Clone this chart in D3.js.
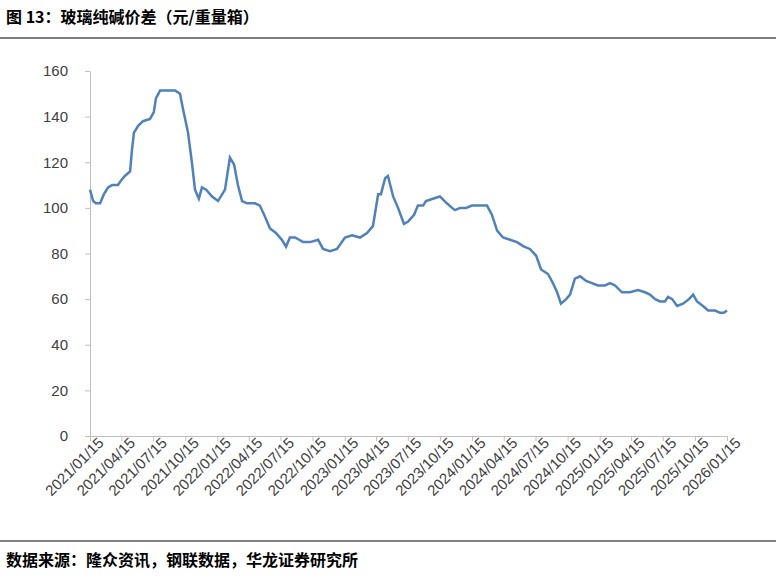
<!DOCTYPE html>
<html><head><meta charset="utf-8">
<script src="https://cdn.jsdelivr.net/npm/d3@7"></script>
<style>body{margin:0;background:#fff}</style>
</head><body>
<svg width="776" height="580"></svg>
<script>
// Données
const dates = ["2021-01-15","2021-01-24","2021-02-01","2021-02-13","2021-02-24","2021-03-08","2021-03-19","2021-04-05","2021-04-14","2021-04-25","2021-05-10","2021-05-15","2021-05-21","2021-06-02","2021-06-16","2021-07-06","2021-07-17","2021-07-23","2021-08-04","2021-09-16","2021-09-30","2021-10-09","2021-10-23","2021-11-03","2021-11-12","2021-11-23","2021-12-02","2021-12-14","2021-12-31","2022-01-17","2022-02-06","2022-02-20","2022-03-04","2022-03-15","2022-03-27","2022-04-10","2022-05-03","2022-05-17","2022-06-01","2022-06-15","2022-07-02","2022-07-19","2022-07-31","2022-08-11","2022-08-26","2022-09-18","2022-10-08","2022-10-31","2022-11-14","2022-12-04","2022-12-24","2023-01-16","2023-02-05","2023-02-28","2023-03-20","2023-04-06","2023-04-21","2023-04-29","2023-05-11","2023-05-19","2023-06-03","2023-06-17","2023-07-04","2023-07-16","2023-08-02","2023-08-13","2023-08-28","2023-09-05","2023-09-25","2023-10-15","2023-11-04","2023-11-19","2023-11-27","2023-12-12","2023-12-29","2024-01-15","2024-02-07","2024-02-27","2024-03-12","2024-03-27","2024-04-13","2024-05-03","2024-05-23","2024-06-12","2024-06-29","2024-07-17","2024-07-31","2024-08-20","2024-09-03","2024-09-15","2024-09-26","2024-10-11","2024-10-22","2024-11-05","2024-11-20","2024-12-07","2024-12-24","2025-01-10","2025-01-30","2025-02-14","2025-02-28","2025-03-20","2025-04-12","2025-05-05","2025-05-25","2025-06-08","2025-06-23","2025-07-07","2025-07-21","2025-07-30","2025-08-11","2025-08-25","2025-09-11","2025-09-28","2025-10-10","2025-10-21","2025-11-07","2025-11-22","2025-12-12","2025-12-26","2026-01-06","2026-01-15"];
const values = [108,103,102,102,106,109,110,110,112,114,116,125,133,136,138,139,142,148,151.5,151.5,150,143,133,120,108,104,109,108,105,103,108,122,119,110,103,102,102,101,96,91,89,86,83,87,87,85,85,86,82,81,82,87,88,87,89,92,106,106,113,114,105,100,93,94,97,101,101,103,104,105,102,100,99,100,100,101,101,101,97,90,87,86,85,83,82,79,73,71,67,63,58,60,62,69,70,68,67,66,66,67,66,63,63,64,63,62,60,59,59,61,60,57,58,60,62,59,57,55,55,54,54,55];
const tickLabels = ["2021/01/15","2021/04/15","2021/07/15","2021/10/15","2022/01/15","2022/04/15","2022/07/15","2022/10/15","2023/01/15","2023/04/15","2023/07/15","2023/10/15","2024/01/15","2024/04/15","2024/07/15","2024/10/15","2025/01/15","2025/04/15","2025/07/15","2025/10/15","2026/01/15"];
const yTicks = [0,20,40,60,80,100,120,140,160];

const svg = d3.select("svg");
const parse = d3.timeParse("%Y-%m-%d");
const parseTick = d3.timeParse("%Y/%m/%d");
const data = dates.map((d, i) => ({date: parse(d), value: values[i]}));

const x = d3.scaleTime().domain([parse("2021-01-15"), parse("2026-01-15")]).range([90, 727]);
const y = d3.scaleLinear().domain([0, 160]).range([436, 71]);

// Titre
svg.append("text").attr("x", 6).attr("y", 23)
    .style("font-family", "Noto Sans CJK SC").style("font-weight", "bold").style("font-size", "16px")
    .text("图 13：玻璃纯碱价差（元/重量箱）");
svg.append("line").attr("x1", 0).attr("x2", 776).attr("y1", 38).attr("y2", 38).attr("stroke", "#000").attr("stroke-width", 1);

// Axes
const yAxis = svg.append("g").attr("transform", "translate(90,0)")
    .call(d3.axisLeft(y).tickValues(yTicks).tickSize(5).tickSizeOuter(0));
yAxis.selectAll("text").style("font-family", "Arial").style("font-size", "15px").attr("fill", "#404040").attr("x", -22);
yAxis.select(".domain").attr("stroke", "#bfbfbf");
yAxis.selectAll(".tick line").attr("stroke", "#bfbfbf");

const xAxis = svg.append("g").attr("transform", "translate(0,436)")
    .call(d3.axisBottom(x).tickValues(tickLabels.map(parseTick)).tickFormat(d3.timeFormat("%Y/%m/%d")).tickSize(5).tickSizeOuter(0));
xAxis.select(".domain").attr("stroke", "#bfbfbf");
xAxis.selectAll(".tick line").attr("stroke", "#bfbfbf");
xAxis.selectAll("text")
    .style("font-family", "Arial").style("font-size", "15px").attr("fill", "#404040")
    .attr("text-anchor", "end").attr("dx", "0.3em").attr("dy", "0.5em")
    .attr("transform", "rotate(-45)");

// Courbe
svg.append("path").datum(data)
    .attr("fill", "none").attr("stroke", "#4f81bd").attr("stroke-width", 2.5)
    .attr("d", d3.line().x(d => x(d.date)).y(d => y(d.value)));

// Source
svg.append("line").attr("x1", 0).attr("x2", 776).attr("y1", 541).attr("y2", 541).attr("stroke", "#000").attr("stroke-width", 1);
svg.append("text").attr("x", 6).attr("y", 566)
    .style("font-family", "Noto Sans CJK SC").style("font-weight", "bold").style("font-size", "16px")
    .text("数据来源：隆众资讯，钢联数据，华龙证券研究所");
</script>
</body></html>
